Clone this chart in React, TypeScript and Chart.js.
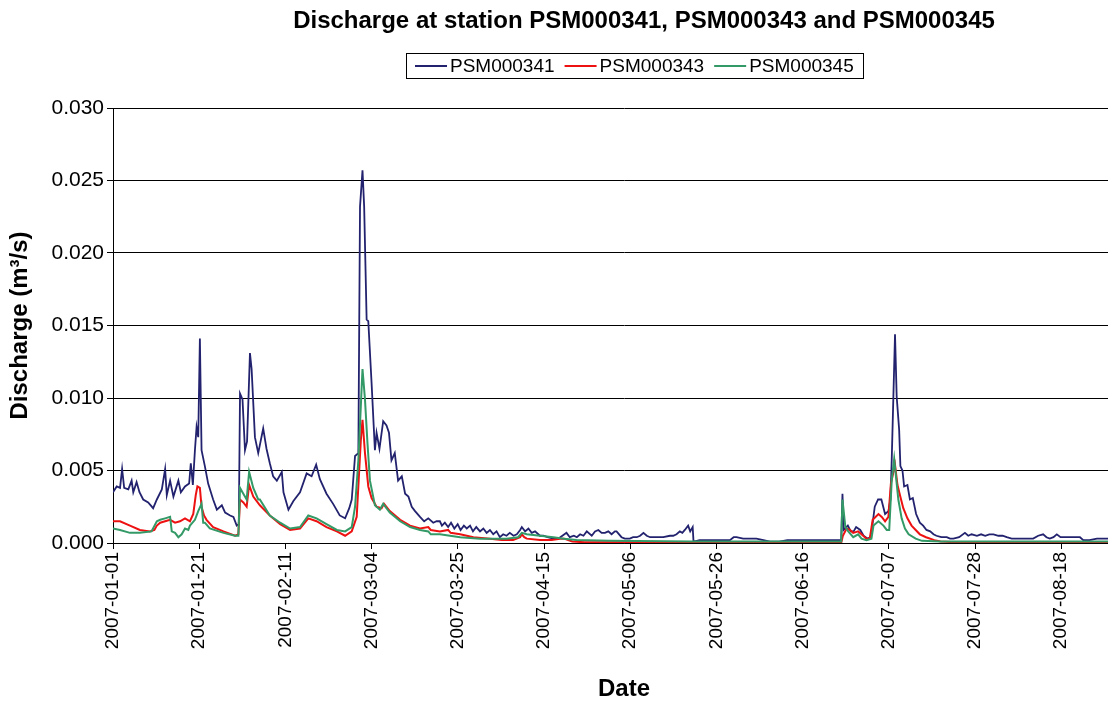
import { useEffect, useRef } from 'react';
import { Chart, registerables } from 'chart.js';

Chart.register(...registerables);

const FONT = "'Liberation Sans', Arial, sans-serif";

const chartTitle = 'Discharge at station PSM000341, PSM000343 and PSM000345';
const xTitle = 'Date';
const yTitle = 'Discharge (m³/s)';
const seriesNames = ['PSM000341', 'PSM000343', 'PSM000345'];

// tick labels every 500 hours (20.83 days) starting 2007-01-01
const tickLabels = [
  '2007-01-01', '2007-01-21', '2007-02-11', '2007-03-04', '2007-03-25', '2007-04-15',
  '2007-05-06', '2007-05-26', '2007-06-16', '2007-07-07', '2007-07-28', '2007-08-18',
];
const tickStepDays = 500 / 24;

// [day since 2007-01-01, discharge m³/s]
const series341: number[][] = [
  [0, 0.0035], [0.9, 0.0039], [1.7, 0.0038], [2.2, 0.0051], [2.7, 0.0038], [3.7, 0.0037], [4.5, 0.0043], [4.9, 0.0035],
  [5.7, 0.0042], [6.4, 0.0035], [7.3, 0.0030], [8.5, 0.0028], [9.7, 0.0024], [10.6, 0.0030], [11.8, 0.0037], [12.6, 0.0051],
  [13.0, 0.0033], [13.8, 0.0043], [14.6, 0.0032], [15.8, 0.0043], [16.4, 0.0035], [17.4, 0.0039], [18.4, 0.0041], [18.8, 0.0055],
  [19.3, 0.0040], [19.8, 0.0064], [20.2, 0.0080], [20.6, 0.0073], [21.0, 0.0141], [21.4, 0.0064], [22.2, 0.0053], [23.0, 0.0041],
  [24.2, 0.0030], [25.1, 0.0023], [26.3, 0.0026], [27.1, 0.0021], [28.3, 0.0019], [29.1, 0.0018], [29.9, 0.0012], [30.4, 0.0013],
  [30.7, 0.0103], [31.3, 0.0099], [31.9, 0.0064], [32.4, 0.0070], [33.1, 0.0131], [33.5, 0.0120], [34.3, 0.0073], [35.1, 0.0062],
  [36.3, 0.0079], [37.1, 0.0065], [37.9, 0.0055], [38.7, 0.0046], [39.6, 0.0043], [40.8, 0.0049], [41.2, 0.0035], [42.4, 0.0023],
  [43.6, 0.0029], [45.2, 0.0035], [46.8, 0.0048], [48.0, 0.0046], [49.1, 0.0054], [50.0, 0.0044], [51.6, 0.0034], [53.2, 0.0027],
  [54.8, 0.0019], [56.1, 0.0017], [57.1, 0.0024], [57.7, 0.0030], [58.5, 0.0060], [59.3, 0.0062], [59.7, 0.0232], [60.3, 0.0257],
  [60.7, 0.0232], [61.3, 0.0154], [61.7, 0.0153], [62.5, 0.0110], [63.3, 0.0064], [63.7, 0.0076], [64.4, 0.0065], [65.3, 0.0084],
  [66.1, 0.0081], [66.7, 0.0076], [67.3, 0.0057], [68.1, 0.0062], [68.9, 0.0043], [69.8, 0.0046], [70.6, 0.0034], [71.4, 0.0032],
  [72.2, 0.0025], [73.0, 0.0022], [74.2, 0.0018], [75.2, 0.0015], [76.2, 0.0017], [77.4, 0.0014], [78.2, 0.0015], [79.0, 0.0015],
  [79.5, 0.0012], [80.2, 0.0014], [81.0, 0.0011], [81.7, 0.0014], [82.5, 0.0010], [83.3, 0.0013], [84.0, 0.0009], [84.8, 0.0012],
  [85.5, 0.0010], [86.3, 0.0012], [87.0, 0.0008], [87.8, 0.0011], [88.7, 0.0008], [89.5, 0.0010], [90.3, 0.0007], [91.1, 0.0009],
  [91.9, 0.0006], [92.7, 0.0008], [93.5, 0.0004], [94.3, 0.0006], [95.1, 0.0005], [95.9, 0.0007], [96.8, 0.0005], [97.6, 0.0006],
  [98.4, 0.0009], [98.8, 0.0011], [99.6, 0.0008], [100.4, 0.0010], [101.2, 0.0007], [102.0, 0.0008], [103.2, 0.0005], [104.0, 0.0005],
  [105.0, 0.0004], [106.4, 0.0003], [107.6, 0.0003], [108.6, 0.0005], [109.6, 0.0007], [110.4, 0.0004], [111.4, 0.0005], [112.1, 0.0004],
  [112.9, 0.0006], [113.7, 0.0005], [114.5, 0.0008], [115.7, 0.0005], [116.5, 0.0008], [117.3, 0.0009], [118.1, 0.0007], [118.9, 0.0007],
  [119.7, 0.0008], [120.5, 0.0006], [121.3, 0.0008], [121.7, 0.0008], [122.9, 0.0004], [123.7, 0.0003], [124.9, 0.0003], [125.7, 0.0004],
  [126.6, 0.0004], [127.4, 0.0005], [128.2, 0.0007], [129.0, 0.0005], [129.8, 0.0004], [131.4, 0.0004], [133.0, 0.0004], [134.6, 0.0005],
  [135.4, 0.0005], [136.2, 0.0006], [137.0, 0.0008], [137.6, 0.0007], [138.2, 0.0009], [139.0, 0.0012], [139.5, 0.0008], [140.1, 0.0011],
  [140.3, 0.0001], [141.8, 0.0002], [143.5, 0.0002], [144.3, 0.0002], [146.7, 0.0002], [148.5, 0.0002], [149.1, 0.0002], [150.0, 0.0004],
  [150.7, 0.0004], [152.3, 0.0003], [154.0, 0.0003], [155.5, 0.0003], [157.2, 0.0002], [158.8, 0.0001], [161.0, 0.0001], [163.0, 0.0002],
  [164.4, 0.0002], [166.8, 0.0002], [169.2, 0.0002], [170.0, 0.0002], [172.0, 0.0002], [173.3, 0.0002], [175.0, 0.0002], [176.0, 0.0002],
  [176.3, 0.0034], [176.6, 0.0009], [177.6, 0.0012], [178.3, 0.0008], [179.0, 0.0008], [179.6, 0.0011], [180.6, 0.0009], [181.4, 0.0005],
  [182.4, 0.0003], [183.0, 0.0004], [183.3, 0.0007], [184.1, 0.0025], [184.9, 0.0030], [185.7, 0.0030], [186.6, 0.0020], [187.4, 0.0022],
  [187.9, 0.0030], [188.2, 0.0057], [189.0, 0.0144], [189.4, 0.0101], [190.0, 0.0078], [190.3, 0.0053], [190.8, 0.0050], [191.2, 0.0039],
  [192.0, 0.0040], [192.6, 0.0030], [193.3, 0.0031], [194.1, 0.0020], [195.0, 0.0014], [195.8, 0.0012], [196.6, 0.0009], [197.5, 0.0008],
  [198.3, 0.0006], [199.0, 0.0005], [200.2, 0.0004], [201.5, 0.0004], [202.3, 0.0003], [203.1, 0.0003], [204.5, 0.0004], [205.9, 0.0007],
  [206.7, 0.0005], [207.5, 0.0006], [208.8, 0.0005], [209.8, 0.0006], [210.8, 0.0005], [211.8, 0.0006], [212.8, 0.0006], [214.0, 0.0005],
  [215.0, 0.0005], [216.0, 0.0004], [217.2, 0.0003], [218.4, 0.0003], [220.0, 0.0003], [221.2, 0.0003], [222.4, 0.0003], [223.6, 0.0005],
  [224.8, 0.0006], [225.6, 0.0004], [226.4, 0.0003], [227.3, 0.0004], [228.1, 0.0006], [229.0, 0.0004], [230.5, 0.0004], [232.0, 0.0004],
  [233.7, 0.0004], [234.5, 0.0002], [236.0, 0.0002], [237.8, 0.0003], [240.5, 0.0003], [243.0, 0.0003], [247.0, 0.0003],
];

const series343: number[][] = [
  [0, 0.0015], [1.7, 0.0015], [4.1, 0.0012], [6.5, 0.0009], [8.9, 0.0008], [10.0, 0.0009], [10.6, 0.0012], [11.4, 0.0014],
  [12.6, 0.0015], [13.8, 0.0016], [15.0, 0.0014], [16.2, 0.0015], [17.4, 0.0017], [18.6, 0.0015], [19.4, 0.0020], [20.0, 0.0033],
  [20.4, 0.0039], [21.0, 0.0038], [21.4, 0.0025], [22.0, 0.0019], [22.6, 0.0016], [24.2, 0.0011], [26.7, 0.0008], [29.5, 0.0005],
  [30.3, 0.0006], [30.7, 0.0030], [31.5, 0.0028], [32.3, 0.0025], [32.9, 0.0040], [33.9, 0.0032], [35.5, 0.0026], [37.9, 0.0019],
  [40.4, 0.0013], [42.8, 0.0009], [45.2, 0.0010], [47.2, 0.0017], [49.2, 0.0015], [51.6, 0.0011], [54.1, 0.0008], [56.1, 0.0005],
  [57.7, 0.0008], [58.9, 0.0018], [59.9, 0.0071], [60.3, 0.0085], [60.9, 0.0062], [61.7, 0.0039], [62.5, 0.0031], [63.7, 0.0025],
  [64.9, 0.0024], [65.5, 0.0027], [66.9, 0.0022], [69.4, 0.0016], [71.8, 0.0012], [74.2, 0.0010], [76.2, 0.0011], [76.8, 0.0009],
  [79.0, 0.0008], [81.0, 0.0009], [81.6, 0.0007], [83.9, 0.0006], [87.1, 0.0004], [91.1, 0.0003], [94.0, 0.0002], [96.7, 0.0002],
  [98.4, 0.0004], [98.8, 0.0006], [99.4, 0.0004], [100.0, 0.0003], [103.2, 0.0002], [106.0, 0.0002], [108.0, 0.0003], [109.0, 0.0003],
  [111.0, 0.0001], [114.0, 0.00005], [125.0, 0.00005], [135.0, 0.00002], [176.0, 0.00002], [176.4, 0.0005], [177.3, 0.0010], [178.1, 0.0009],
  [178.9, 0.0007], [180.1, 0.0008], [180.9, 0.0006], [182.1, 0.0003], [182.9, 0.0003], [183.6, 0.0016], [185.0, 0.0020], [185.8, 0.0018],
  [186.6, 0.0015], [187.4, 0.0018], [188.0, 0.0041], [189.0, 0.0054], [189.6, 0.0040], [190.2, 0.0033], [191.0, 0.0024], [192.0, 0.0017],
  [193.0, 0.0012], [194.0, 0.0009], [195.0, 0.0006], [196.5, 0.0004], [198.5, 0.0002], [200.0, 0.0001], [205.0, 0.00003], [247.0, 0.00002],
];

const series345: number[][] = [
  [0, 0.0010], [1.7, 0.0009], [4.1, 0.0007], [6.5, 0.0007], [9.3, 0.0008], [10.6, 0.0015], [11.4, 0.0016], [12.6, 0.0017],
  [13.8, 0.0018], [14.2, 0.0008], [15.0, 0.0007], [15.8, 0.0004], [16.6, 0.0006], [17.4, 0.0010], [18.2, 0.0009], [18.6, 0.0012],
  [19.8, 0.0016], [20.6, 0.0022], [21.4, 0.0027], [21.8, 0.0014], [22.2, 0.0014], [23.4, 0.0010], [26.7, 0.0007], [29.5, 0.0005],
  [30.3, 0.0005], [30.7, 0.0038], [31.5, 0.0034], [32.3, 0.0030], [32.9, 0.0049], [33.9, 0.0038], [35.1, 0.0030], [35.5, 0.0030],
  [37.9, 0.0019], [40.4, 0.0014], [42.8, 0.0010], [45.2, 0.0011], [47.2, 0.0019], [49.2, 0.0017], [51.6, 0.0013], [54.1, 0.0009],
  [56.1, 0.0008], [57.7, 0.0011], [58.5, 0.0025], [59.3, 0.0057], [60.3, 0.0120], [60.9, 0.0099], [61.5, 0.0069], [62.1, 0.0043],
  [63.3, 0.0026], [64.5, 0.0023], [65.3, 0.0027], [66.9, 0.0021], [69.4, 0.0015], [71.8, 0.0011], [74.2, 0.0009], [76.2, 0.0008],
  [76.8, 0.0006], [79.0, 0.0006], [83.9, 0.0004], [88.7, 0.0003], [95.1, 0.0003], [97.9, 0.0004], [98.8, 0.0007], [100.0, 0.0006],
  [103.2, 0.0005], [106.4, 0.0004], [109.0, 0.0003], [112.0, 0.0002], [120.0, 0.00015], [140.0, 0.0001], [176.0, 0.0001], [176.3, 0.0030],
  [177.0, 0.0011], [177.7, 0.0008], [178.9, 0.0004], [180.1, 0.0006], [180.9, 0.0003], [182.1, 0.0002], [183.3, 0.0003], [183.8, 0.0012],
  [185.0, 0.0015], [186.2, 0.0012], [187.0, 0.0009], [187.6, 0.0009], [188.2, 0.0043], [188.8, 0.0058], [189.8, 0.0030], [190.6, 0.0017],
  [191.4, 0.0010], [192.3, 0.0006], [194.0, 0.0003], [195.5, 0.00015], [200.0, 0.0001], [247.0, 0.0001],
];

const seriesColors = ['#22226f', '#ee1111', '#339966'];

const headerPlugin = {
  id: 'header',
  afterDraw(chart: any) {
    const c = chart.ctx as CanvasRenderingContext2D;
    c.save();
    c.fillStyle = '#000';
    c.font = `bold 24px ${FONT}`;
    c.textAlign = 'center';
    c.textBaseline = 'alphabetic';
    c.fillText(chartTitle, 644, 28);

    c.font = `19px ${FONT}`;
    const items = chart.data.datasets.map((ds: any) => ({ text: ds.label, color: ds.borderColor }));
    const lineLen = 32, gap = 3, itemGap = 10, padX = 9;
    const widths = items.map((it: any) => c.measureText(it.text).width);
    let total = padX * 2 + itemGap * (items.length - 1);
    widths.forEach((w: number) => { total += lineLen + gap + w; });
    const left = Math.round(634 - total / 2);
    c.strokeStyle = '#000';
    c.lineWidth = 1;
    c.strokeRect(left + 0.5, 53.5, Math.round(total), 25);
    let x = left + padX;
    items.forEach((it: any, i: number) => {
      c.strokeStyle = it.color;
      c.lineWidth = 2;
      c.beginPath();
      c.moveTo(x, 66);
      c.lineTo(x + lineLen, 66);
      c.stroke();
      x += lineLen + gap;
      c.fillStyle = '#000';
      c.textAlign = 'left';
      c.textBaseline = 'middle';
      c.fillText(it.text, x, 67);
      x += widths[i] + itemGap;
    });
    c.restore();
  },
};

// the source chart is wider than the picture and is cut off at its right edge
const CANVAS_W = 1135;
const VIEW_W = 1108;
const VIEW_H = 704;

export default function App() {
  const ref = useRef<HTMLCanvasElement>(null);
  useEffect(() => {
    document.body.style.margin = '0';
    document.body.style.overflow = 'hidden';
    const canvas = ref.current!;
    const all = [series341, series343, series345];
    const chart = new Chart(canvas, {
      type: 'line',
      data: {
        datasets: all.map((s, i) => ({
          label: seriesNames[i],
          data: s.map((p) => ({ x: p[0], y: p[1] })),
          borderColor: seriesColors[i],
          backgroundColor: seriesColors[i],
          borderWidth: i === 0 ? 1.8 : 2,
          pointRadius: 0,
          tension: 0,
          order: 2 - i,
        })),
      },
      options: {
        responsive: false,
        animation: false,
        devicePixelRatio: 1,
        layout: { padding: { left: 0, right: 0, top: 108, bottom: 0 } },
        plugins: {
          legend: { display: false },
          title: { display: false },
          tooltip: { enabled: false },
        },
        scales: {
          x: {
            type: 'linear',
            min: 0,
            max: 247,
            afterBuildTicks: (scale: any) => {
              scale.ticks = tickLabels.map((_, k) => ({ value: k * tickStepDays }));
            },
            afterFit: (scale: any) => { scale.height = 161; },
            ticks: {
              autoSkip: false,
              minRotation: 90,
              maxRotation: 90,
              padding: 3,
              color: '#000',
              font: { family: FONT, size: 19 },
              callback: (_v: any, index: number) => tickLabels[index],
            },
            grid: { drawOnChartArea: false, drawTicks: true, tickLength: 6, color: '#000' },
            border: { display: true, color: '#000', width: 1 },
            title: {
              display: true,
              text: xTitle,
              color: '#000',
              font: { family: FONT, size: 24, weight: 'bold' },
              padding: { top: 0, bottom: 0 },
            },
          },
          y: {
            min: 0,
            max: 0.03,
            afterFit: (scale: any) => { scale.width = 113; },
            ticks: {
              stepSize: 0.005,
              padding: 3,
              color: '#000',
              font: { family: FONT, size: 21 },
              callback: (v: any) => Number(v).toFixed(3),
            },
            grid: { color: '#000', lineWidth: 1, tickLength: 6, drawTicks: true },
            border: { display: true, color: '#000', width: 1 },
            title: {
              display: true,
              text: yTitle,
              color: '#000',
              font: { family: FONT, size: 24, weight: 'bold' },
              padding: { top: 6, bottom: 0 },
            },
          },
        },
      },
      plugins: [headerPlugin],
    });
    return () => chart.destroy();
  }, []);
  return (
    <div style={{ width: VIEW_W, height: VIEW_H, overflow: 'hidden', background: '#fff' }}>
      <canvas ref={ref} width={CANVAS_W} height={VIEW_H} style={{ display: 'block', width: CANVAS_W, height: VIEW_H }} />
    </div>
  );
}
